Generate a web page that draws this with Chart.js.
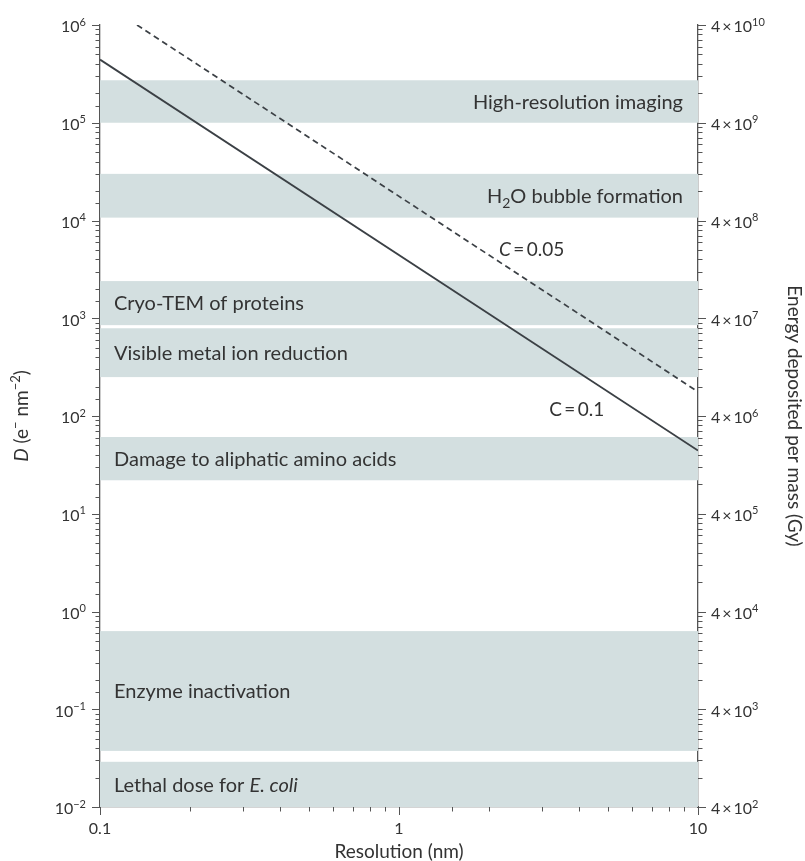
<!DOCTYPE html>
<html>
<head>
<meta charset="utf-8">
<script src="https://cdn.jsdelivr.net/npm/chart.js@4/dist/chart.umd.min.js"></script>
<style>
  body { margin: 0; background: #fff; }
  canvas { display: block; }
</style>
</head>
<body>
<canvas id="doseChart" width="805" height="861"></canvas>
<script>
// lines: dose D against resolution, for two values of C
var resolution = [0.1, 10];
var doseC010 = [4.43e5, 44.3];
var resolutionC005 = [0.133, 10];
var doseC005 = [1.0e6, 177];

// grey bands, given in D (e- nm-2)
var bandNames = [
  'High-resolution imaging',
  'H~2~O bubble formation',
  'Cryo-TEM of proteins',
  'Visible metal ion reduction',
  'Damage to aliphatic amino acids',
  'Enzyme inactivation',
  'Lethal dose for _E. coli_'
];
var bandLow = [1.0e5, 1.07e4, 850, 250, 22, 0.0375, 0.01];
var bandHigh = [2.72e5, 3.0e4, 2400, 790, 61, 0.63, 0.029];
var bandSide = ['right', 'right', 'left', 'left', 'left', 'left', 'left'];

// line labels, placed in data units
var lineLabels = ['_C_\u2009=\u20090.05', 'C\u2009=\u20090.1'];
var lineLabelX = [2.16, 3.18];
var lineLabelY = [5090, 118];

// right axis = left axis times this (Gy per e- nm-2)
var gyFactor = 4e4;

var FONT = 'Lato';
var TEXT = '#333';
var AXIS = '#555';

function isPow10(v) {
  var l = Math.log10(v);
  return Math.abs(l - Math.round(l)) < 1e-6;
}

function expText(e) {
  return e < 0 ? '\u2212' + (-e) : String(e);
}

// tiny rich text: _italic_, ^sup^, ~sub~
function richParts(str) {
  var parts = [];
  str.split(/(_[^_]+_|\^[^\^]+\^|~[^~]+~)/).forEach(function (s) {
    if (!s) return;
    if (s[0] === '_') parts.push({ t: s.slice(1, -1), italic: true });
    else if (s[0] === '^') parts.push({ t: s.slice(1, -1), sup: true });
    else if (s[0] === '~') parts.push({ t: s.slice(1, -1), sub: true });
    else parts.push({ t: s });
  });
  return parts;
}

// y is the vertical middle of the capitals
function drawRich(ctx, str, x, y, size, align) {
  var parts = richParts(str);
  var fontOf = function (p) {
    var sz = (p.sup || p.sub) ? Math.round(size * 0.68) : size;
    return (p.italic ? 'italic ' : '') + sz + 'px ' + FONT;
  };
  var w = 0;
  parts.forEach(function (p) {
    ctx.font = fontOf(p);
    p.w = ctx.measureText(p.t).width;
    w += p.w;
  });
  var cx = align === 'right' ? x - w : align === 'center' ? x - w / 2 : x;
  var base = y + size * 0.36;
  ctx.textAlign = 'left';
  ctx.textBaseline = 'alphabetic';
  parts.forEach(function (p) {
    ctx.font = fontOf(p);
    var dy = p.sup ? -size * 0.42 : p.sub ? size * 0.25 : 0;
    ctx.fillText(p.t, cx, base + dy);
    cx += p.w;
  });
}

var rightTicks = [];
for (var n = -2; n <= 5; n++) {
  for (var k = 1; k <= 9; k++) rightTicks.push(gyFactor * k * Math.pow(10, n));
}
rightTicks.push(gyFactor * 1e6);

// bands and their labels, under the lines
var bandPlugin = {
  id: 'bands',
  beforeDatasetsDraw: function (chart) {
    var ctx = chart.ctx, a = chart.chartArea, y = chart.scales.y, x = chart.scales.x;
    ctx.save();
    for (var i = 0; i < bandNames.length; i++) {
      var top = y.getPixelForValue(bandHigh[i]);
      var bottom = y.getPixelForValue(bandLow[i]);
      ctx.fillStyle = '#d3dfe0';
      ctx.fillRect(a.left, top, a.right - a.left, bottom - top);
      ctx.fillStyle = TEXT;
      var cy = (top + bottom) / 2;
      if (bandSide[i] === 'right') drawRich(ctx, bandNames[i], a.right - 15, cy, 20, 'right');
      else drawRich(ctx, bandNames[i], a.left + 14, cy, 20, 'left');
    }
    for (var j = 0; j < lineLabels.length; j++) {
      drawRich(ctx, lineLabels[j], x.getPixelForValue(lineLabelX[j]), y.getPixelForValue(lineLabelY[j]), 19, 'left');
    }
    ctx.restore();
  }
};

// tick marks (long at decades), superscript tick labels and axis titles
var axisPlugin = {
  id: 'axisDeco',
  afterDraw: function (chart) {
    var ctx = chart.ctx, a = chart.chartArea, s = chart.scales;
    ctx.save();
    ctx.strokeStyle = AXIS;
    ctx.lineWidth = 1;
    ctx.beginPath();
    s.x.ticks.forEach(function (t) {
      var px = Math.round(s.x.getPixelForValue(t.value)) + 0.5;
      var len = isPow10(t.value) ? 8 : 4.5;
      ctx.moveTo(px, a.bottom); ctx.lineTo(px, a.bottom + len);
    });
    s.y.ticks.forEach(function (t) {
      var py = Math.round(s.y.getPixelForValue(t.value)) + 0.5;
      var len = isPow10(t.value) ? 8 : 4.5;
      ctx.moveTo(a.left, py); ctx.lineTo(a.left - len, py);
    });
    s.y2.ticks.forEach(function (t) {
      var py = Math.round(s.y2.getPixelForValue(t.value)) + 0.5;
      var len = isPow10(t.value / 4) ? 8 : 4.5;
      ctx.moveTo(a.right, py); ctx.lineTo(a.right + len, py);
    });
    ctx.stroke();

    ctx.fillStyle = TEXT;
    s.y.ticks.forEach(function (t) {
      if (!isPow10(t.value)) return;
      var e = Math.round(Math.log10(t.value));
      drawRich(ctx, '10^' + expText(e) + '^', a.left - 14, s.y.getPixelForValue(t.value) + 1.5, 16, 'right');
    });
    s.y2.ticks.forEach(function (t) {
      if (!isPow10(t.value / 4)) return;
      var e = Math.round(Math.log10(t.value / 4));
      drawRich(ctx, '4\u2009\u00d7\u200910^' + expText(e) + '^', a.right + 13, s.y2.getPixelForValue(t.value) + 1.5, 16, 'left');
    });

    var midY = (a.top + a.bottom) / 2;
    drawRich(ctx, 'Resolution (nm)', (a.left + a.right) / 2, 851, 19, 'center');

    ctx.translate(21, midY);
    ctx.rotate(-Math.PI / 2);
    drawRich(ctx, '_D_ (e^\u2212^ nm^\u22122^)', 0, 0, 19, 'center');
    ctx.restore();

    ctx.save();
    ctx.fillStyle = TEXT;
    ctx.translate(795, midY);
    ctx.rotate(Math.PI / 2);
    drawRich(ctx, 'Energy deposited per mass (Gy)', 0, 0, 19, 'center');
    ctx.restore();
  }
};

var hiddenGrid = { drawOnChartArea: false, color: 'rgba(0,0,0,0)', tickLength: 8 };
var axisBorder = { color: AXIS, width: 1.3 };

var ctx = document.getElementById('doseChart').getContext('2d');
var chart = new Chart(ctx, {
  type: 'scatter',
  data: {
    datasets: [{
      label: 'C = 0.1',
      data: resolution.map(function (r, i) { return { x: r, y: doseC010[i] }; }),
      showLine: true,
      borderColor: '#3b4045',
      borderWidth: 1.9,
      pointRadius: 0,
      yAxisID: 'y'
    }, {
      label: 'C = 0.05',
      data: resolutionC005.map(function (r, i) { return { x: r, y: doseC005[i] }; }),
      showLine: true,
      borderColor: '#3b4045',
      borderWidth: 1.7,
      borderDash: [6, 4],
      pointRadius: 0,
      yAxisID: 'y'
    }]
  },
  options: {
    responsive: false,
    animation: false,
    layout: { padding: { top: 25, left: 0, right: 0, bottom: 0 } },
    plugins: {
      legend: { display: false },
      tooltip: { enabled: false }
    },
    scales: {
      x: {
        type: 'logarithmic',
        position: 'bottom',
        min: 0.1,
        max: 10,
        grid: hiddenGrid,
        border: axisBorder,
        ticks: {
          autoSkip: false,
          maxRotation: 0,
          padding: 4,
          color: TEXT,
          font: { family: FONT, size: 16 },
          callback: function (v) { return isPow10(v) ? String(v) : ''; }
        },
        afterFit: function (sc) { sc.height = 54; }
      },
      y: {
        type: 'logarithmic',
        position: 'left',
        min: 0.01,
        max: 1e6,
        grid: hiddenGrid,
        border: axisBorder,
        ticks: { display: false },
        afterFit: function (sc) { sc.width = 100; }
      },
      y2: {
        type: 'logarithmic',
        position: 'right',
        min: gyFactor * 0.01,
        max: gyFactor * 1e6,
        grid: hiddenGrid,
        border: axisBorder,
        ticks: { display: false },
        afterBuildTicks: function (sc) {
          sc.ticks = rightTicks.map(function (v) { return { value: v }; });
        },
        afterFit: function (sc) { sc.width = 107; }
      }
    }
  },
  plugins: [bandPlugin, axisPlugin]
});
</script>
</body>
</html>
